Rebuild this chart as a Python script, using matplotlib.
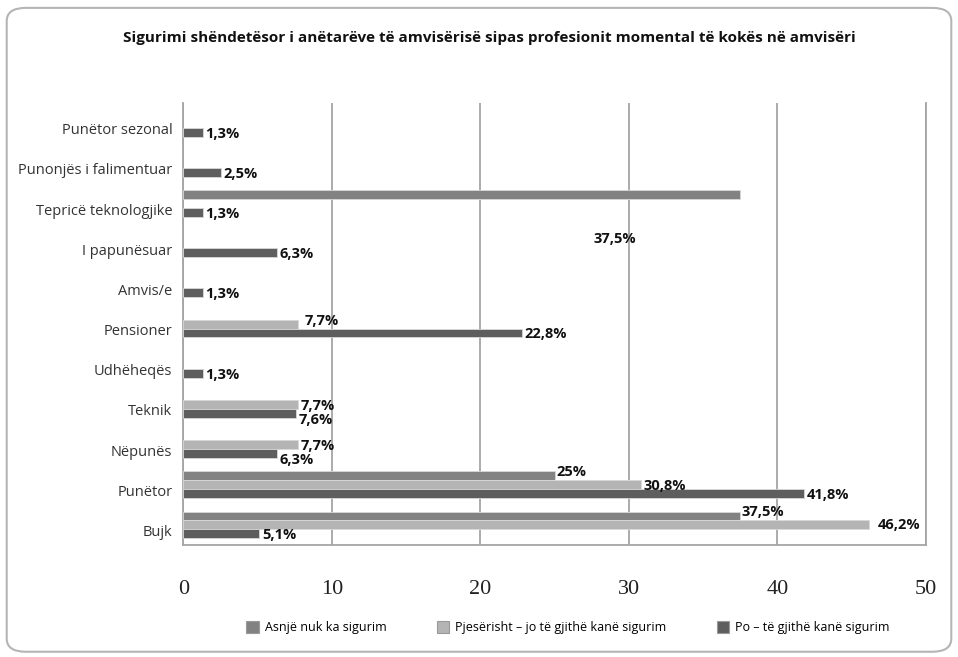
import numpy as np
import matplotlib.pyplot as plt
import matplotlib.transforms as mtransforms
from matplotlib.patches import FancyBboxPatch, Patch

categories = ["Punëtor sezonal", "Punonjës i falimentuar", "Tepricë teknologjike",
              "I papunësuar", "Amvis/e", "Pensioner", "Udhëheqës", "Teknik",
              "Nëpunës", "Punëtor", "Bujk"]
series = ["Asnjë nuk ka sigurim", "Pjesërisht – jo të gjithë kanë sigurim",
          "Po – të gjithë kanë sigurim"]
asnje = [np.nan, np.nan, 37.5, np.nan, np.nan, np.nan, np.nan, np.nan, np.nan, 25.0, 37.5]
pjeserisht = [np.nan, np.nan, np.nan, np.nan, np.nan, 7.7, np.nan, 7.7, 7.7, 30.8, 46.2]
po = [1.3, 2.5, 1.3, 6.3, 1.3, 22.8, 1.3, 7.6, 6.3, 41.8, 5.1]
values = [asnje, pjeserisht, po]
colors = ["#828282", "#b4b4b4", "#5e5e5e"]

# label tweaks (offsets in points) copied from the original layout
label_shift = {(7, 2): (2, -5), (8, 2): (2, -5), (2, 0): (-106, -32),
               (10, 1): (6, 0), (5, 1): (5, 2), (9, 0): (1, 3), (10, 0): (1, 3)}

fig = plt.figure(figsize=(9.58, 6.57), dpi=100, facecolor="w")
fig.patches.append(FancyBboxPatch((0.007, 0.008), 0.986, 0.98,
                                  boxstyle="round,pad=0,rounding_size=0.02",
                                  transform=fig.transFigure, fc="w",
                                  ec="#b5b5b5", lw=1.5, zorder=-1))
ax = fig.add_axes([0.1915, 0.1705, 0.775, 0.6725])

y = np.arange(len(categories))
h = 0.222
for k in range(3):
    ax.barh(y + (k - 1) * h, values[k], height=h, color=colors[k],
            edgecolor="#d8d8d8", lw=0.6, zorder=3, label=series[k])
    for i, v in enumerate(values[k]):
        if np.isnan(v):
            continue
        txt = ("%g" % v).replace(".", ",") + "%"
        dx, dy = label_shift.get((i, k), (2, -1))
        ax.annotate(txt, (v, y[i] + (k - 1) * h), xytext=(dx, dy),
                    textcoords="offset points", ha="left", va="center",
                    fontsize=10.5, fontweight="bold", family="Open Sans",
                    color="#111111", zorder=4)

ax.set_xlim(0, 50)
ax.set_ylim(len(categories) - 0.5, -0.5)
ax.set_xticks([0, 10, 20, 30, 40, 50])
ax.set_yticks(y)
ax.set_yticklabels(categories, family="Open Sans", fontsize=10.5, color="#333333")
ax.tick_params(axis="y", length=0, pad=8)
ax.tick_params(axis="x", length=0, pad=25)
shift = mtransforms.ScaledTranslation(0, -4 / 72, fig.dpi_scale_trans)
for lb in ax.get_yticklabels():
    lb.set_transform(lb.get_transform() + shift)
for lb in ax.get_xticklabels():
    lb.set_family("Liberation Serif")
    lb.set_fontsize(16)
    lb.set_color("#222222")
ax.grid(axis="x", color="#a5a5a5", lw=1.3, zorder=0)
ax.spines["top"].set_visible(False)
for s in ["left", "bottom", "right"]:
    ax.spines[s].set_color("#a5a5a5")
    ax.spines[s].set_linewidth(1.3)

fig.text(0.511, 0.942, "Sigurimi shëndetësor i anëtarëve të amvisërisë sipas profesionit momental të kokës në amvisëri",
         ha="center", va="center", fontsize=11, fontweight="bold",
         family="Open Sans", color="#111111")

handles = [Patch(fc=c, ec="#9a9a9a", lw=0.8) for c in colors]
fig.legend(handles, series, loc="center", bbox_to_anchor=(0.593, 0.045), ncol=3,
           frameon=False, prop={"family": "Open Sans", "size": 9},
           handlelength=1.0, handleheight=1.1, handletextpad=0.5,
           columnspacing=4.0)

fig.savefig("out.png", dpi=100)
